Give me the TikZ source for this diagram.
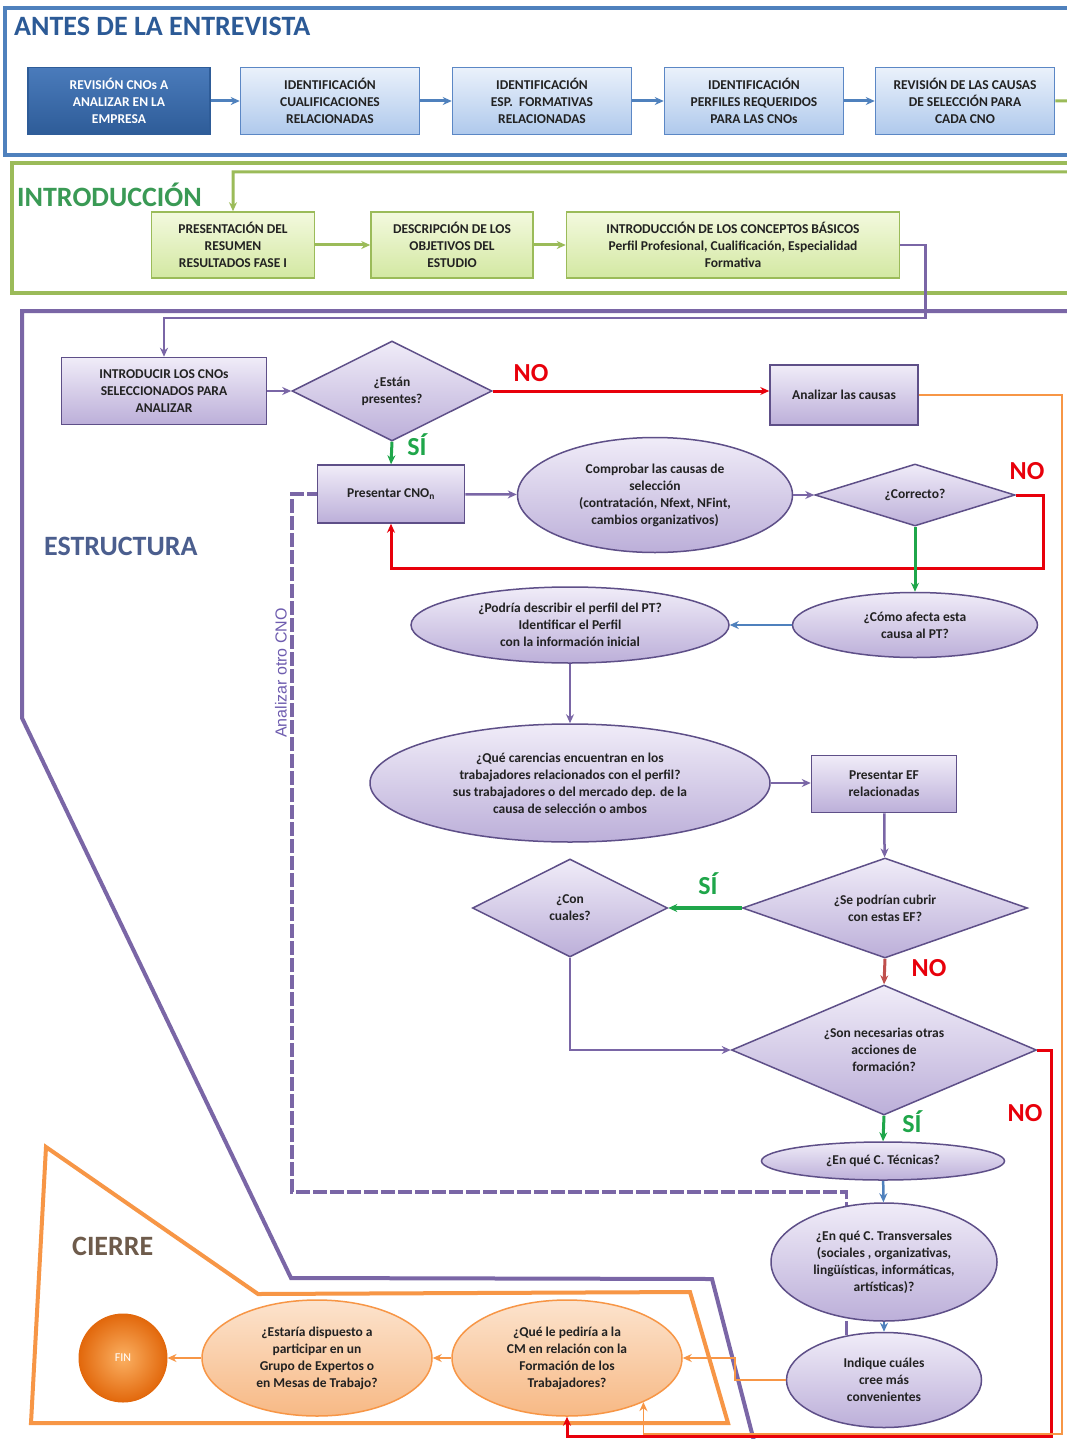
\documentclass[tikz,border=0pt]{standalone}
\usepackage{fontspec}
\setmainfont{Carlito}
\newfontfamily\arialfont{Liberation Sans}
\usetikzlibrary{shapes.geometric,arrows.meta,backgrounds}
\definecolor{txt}{HTML}{222222}
\definecolor{blueline}{HTML}{4F81BD}
\definecolor{blueedge}{HTML}{5B87C5}
\definecolor{bluetop}{HTML}{EAF1FB}
\definecolor{bluebot}{HTML}{AFC9EC}
\definecolor{darkbluetop}{HTML}{4A7BBB}
\definecolor{darkbluebot}{HTML}{2E5C98}
\definecolor{greenline}{HTML}{9BBB59}
\definecolor{greentop}{HTML}{F3F9DE}
\definecolor{greenbot}{HTML}{D3E8A2}
\definecolor{purpleline}{HTML}{7A66A6}
\definecolor{purpleedge}{HTML}{5E4F88}
\definecolor{purpletop}{HTML}{F0ECF8}
\definecolor{purplebot}{HTML}{BCAFD9}
\definecolor{orangeline}{HTML}{F79646}
\definecolor{orangetop}{HTML}{FCE3CD}
\definecolor{orangebot}{HTML}{F7B985}
\definecolor{fininner}{HTML}{FBB062}
\definecolor{finouter}{HTML}{E2680C}
\definecolor{redline}{HTML}{E8000B}
\definecolor{yesgreen}{HTML}{1FA64A}
\definecolor{brownred}{HTML}{C0504D}
\definecolor{antescol}{HTML}{2C5A96}
\definecolor{introcol}{HTML}{3A9A55}
\definecolor{estrcol}{HTML}{4B5E8E}
\definecolor{cierrecol}{HTML}{6E5B4B}

\begin{document}
\begin{tikzpicture}[x=1pt,y=1pt]
        \tikzstyle{every node}+=[inner sep=0pt, align=center, text=txt, font=\fontsize{13.5}{17}\selectfont\bfseries]
        \tikzstyle{title}=[anchor=west, font=\fontsize{28}{30}\selectfont\bfseries]
        \tikzstyle{answer}=[font=\fontsize{26}{28}\selectfont\bfseries]
        \tikzstyle{bluebox}=[draw=blueedge, line width=1.5pt, top color=bluetop, bottom color=bluebot, minimum width=179pt, minimum height=67pt]
        \tikzstyle{greenbox}=[draw=greenline, line width=1.5pt, top color=greentop, bottom color=greenbot, minimum height=66pt]
        \tikzstyle{purplebox}=[draw=purpleedge, line width=1.5pt, top color=purpletop, bottom color=purplebot]
        \tikzstyle{purpleellipse}=[purplebox, ellipse]
        \tikzstyle{purplediamond}=[purplebox, diamond]
        \tikzstyle{orangeellipse}=[ellipse, draw=orangeline, line width=1.5pt, top color=orangetop, bottom color=orangebot, minimum width=230pt, minimum height=116pt]
        \tikzstyle{tip}=[-{Stealth[length=9pt,width=8pt]}]
        \tikzstyle{bluearrow}=[tip, draw=blueline, line width=3pt]
        \tikzstyle{greenarrow}=[tip, draw=greenline, line width=3pt]
        \tikzstyle{purplearrow}=[tip, draw=purpleline, line width=2.5pt]
        \tikzstyle{redarrow}=[tip, draw=redline, line width=3pt]
        \tikzstyle{yesarrow}=[tip, draw=yesgreen, line width=3pt]
        \tikzstyle{orangearrow}=[tip, draw=orangeline, line width=1.5pt]

        \useasboundingbox (0,0) rectangle (1067,-1439);

        \draw[blueline, line width=4pt] (1080,-8) -- (5,-8) -- (5,-155) -- (1080,-155);
        \draw[greenline, line width=4pt] (1080,-163) -- (12,-163) -- (12,-293) -- (1080,-293);
        \draw[purpleline, line width=4pt] (1080,-311) -- (22,-311) -- (22,-718) -- (291,-1278) -- (712,-1279) -- (755,-1445);
        \draw[orangeline, line width=4pt] (46,-1147) -- (258,-1294) -- (690,-1292) -- (728,-1423) -- (31,-1423) -- cycle;

        \node[title, text=antescol] (tAntes) at (14,-26) {ANTES DE LA ENTREVISTA};
        \node[title, text=introcol] (tIntro) at (17,-195) {INTRODUCCIÓN};
        \node[title, text=estrcol] (tEstr) at (44,-546) {ESTRUCTURA};
        \node[title, text=cierrecol] (tCierre) at (72,-1246) {CIERRE};

        \node[bluebox, minimum width=182pt, draw=darkbluebot, top color=darkbluetop, bottom color=darkbluebot, text=white] (b1) at (119,-101) {REVISIÓN CNOs A\\ANALIZAR EN LA\\EMPRESA};
        \node[bluebox] (b2) at (330,-101) {IDENTIFICACIÓN\\CUALIFICACIONES\\RELACIONADAS};
        \node[bluebox] (b3) at (542,-101) {IDENTIFICACIÓN\\ESP.\ \ FORMATIVAS\\RELACIONADAS};
        \node[bluebox] (b4) at (754,-101) {IDENTIFICACIÓN\\PERFILES REQUERIDOS\\PARA LAS CNOs};
        \node[bluebox] (b5) at (965,-101) {REVISIÓN DE LAS CAUSAS\\DE SELECCIÓN PARA\\CADA CNO};

        \node[greenbox, minimum width=163pt] (i1) at (233,-245) {PRESENTACIÓN DEL\\RESUMEN\\RESULTADOS FASE I};
        \node[greenbox, minimum width=162pt] (i2) at (452,-245) {DESCRIPCIÓN DE LOS\\OBJETIVOS DEL\\ESTUDIO};
        \node[greenbox, minimum width=333pt] (i3) at (733,-245) {INTRODUCCIÓN DE LOS CONCEPTOS BÁSICOS\\Perfil Profesional, Cualificación, Especialidad\\Formativa};

        \node[purplebox, minimum width=205pt, minimum height=67pt] (c1) at (164,-391) {INTRODUCIR LOS CNOs\\SELECCIONADOS PARA\\ANALIZAR};
        \node[purplediamond, minimum width=200pt, minimum height=100pt, aspect=2] (d1) at (392,-391) {¿Están\\presentes?};
        \node[purplebox, minimum width=148pt, minimum height=60pt] (an) at (844,-395) {Analizar las causas};
        \node[purplebox, minimum width=147pt, minimum height=58pt] (p1) at (391,-494) {Presentar CNO\textsubscript{n}};
        \node[purpleellipse, minimum width=275pt, minimum height=115pt] (e1) at (655,-495) {Comprobar las causas de\\selección\\(contratación, Nfext, NFint,\\cambios organizativos)};
        \node[purplediamond, minimum width=200pt, minimum height=62pt, aspect=3.2] (d2) at (915,-495) {¿Correcto?};
        \node[purpleellipse, minimum width=245pt, minimum height=65pt] (e2) at (915,-625) {¿Cómo afecta esta\\causa al PT?};
        \node[purpleellipse, minimum width=318pt, minimum height=76pt] (e3) at (570,-625) {¿Podría describir el perfil del PT?\\Identificar el Perfil\\con la información inicial};
        \node[purpleellipse, minimum width=400pt, minimum height=118pt] (e4) at (570,-783) {¿Qué carencias encuentran en los\\trabajadores relacionados con el perfil?\\sus trabajadores o del mercado dep. de la\\causa de selección o ambos};
        \node[purplebox, minimum width=145pt, minimum height=57pt] (ef) at (884,-784) {Presentar EF\\relacionadas};
        \node[purplediamond, minimum width=285pt, minimum height=100pt, aspect=2.85] (d3) at (885,-908) {¿Se podrían cubrir\\con estas EF?};
        \node[purplediamond, minimum width=195pt, minimum height=98pt, aspect=2] (d4) at (570,-908) {¿Con\\cuales?};
        \node[purplediamond, minimum width=305pt, minimum height=130pt, aspect=2.35] (d5) at (884,-1050) {¿Son necesarias otras\\acciones de\\formación?};
        \node[purpleellipse, minimum width=243pt, minimum height=38pt] (e5) at (883,-1161) {¿En qué C. Técnicas?};
        \node[purpleellipse, minimum width=226pt, minimum height=118pt] (e6) at (884,-1262) {¿En qué C. Transversales\\(sociales , organizativas,\\lingüísticas, informáticas,\\artísticas)?};
        \node[purpleellipse, minimum width=195pt, minimum height=95pt] (e7) at (884,-1380) {Indique cuáles\\cree más\\convenientes};

        \node[orangeellipse] (o2) at (567,-1358) {¿Qué le pediría a la\\CM en relación con la\\Formación de los\\Trabajadores?};
        \node[orangeellipse] (o1) at (317,-1358) {¿Estaría dispuesto a\\participar en un\\Grupo de Expertos o\\en Mesas de Trabajo?};
        \node[circle, draw=finouter, line width=1pt, inner color=fininner, outer color=finouter, minimum size=88pt, text=white, font=\fontsize{12}{14}\selectfont] (fin) at (123,-1358) {FIN};

        \node[rotate=90, text=purpleline!90!blue, font=\arialfont\fontsize{16}{18}\selectfont] (otro) at (281,-673) {Analizar otro CNO};

        \node[answer, text=redline] (no1) at (531,-373) {NO};
        \node[answer, text=yesgreen] (si1) at (417,-445) {SÍ};
        \node[answer, text=redline] (no2) at (1027,-471) {NO};
        \node[answer, text=yesgreen] (si2) at (708,-884) {SÍ};
        \node[answer, text=redline] (no3) at (929,-968) {NO};
        \node[answer, text=yesgreen] (si3) at (912,-1122) {SÍ};
        \node[answer, text=redline] (no4) at (1025,-1113) {NO};

        \begin{scope}[on background layer]
        \fill[white] (0,0) rectangle (1067,-1439);
        \draw[purpleline, line width=3.5pt, dash pattern=on 14pt off 3pt] (e7.130) |- (292,-1192) |- (p1.west);
        \end{scope}

        \draw[bluearrow] (b1) -- (b2);
        \draw[bluearrow] (b2) -- (b3);
        \draw[bluearrow] (b3) -- (b4);
        \draw[bluearrow] (b4) -- (b5);
        \draw[greenarrow] (b5.east) -- ++(25,0) -- (1080,-172) -| (i1.north);
        \draw[greenarrow] (i1) -- (i2);
        \draw[greenarrow] (i2) -- (i3);
        \draw[purplearrow] (i3.east) -- ++(25,0) |- ([yshift=39pt]c1.north) -- (c1.north);

        \draw[purplearrow] (c1) -- (d1);
        \draw[redarrow] (d1.east) -- (d1.east -| an.west);
        \draw[yesarrow] (d1.south) -- (p1.north);
        \draw[purplearrow] (p1) -- (e1);
        \draw[purplearrow] (e1) -- (d2);
        \draw[redarrow] (d2.east) -- ++(28,0) |- ([yshift=-45pt]p1.south) -- (p1.south);
        \draw[yesarrow] (d2.south) -- (e2.north);
        \draw[tip, draw=blueline, line width=2.5pt] (e2) -- (e3);
        \draw[purplearrow] (e3) -- (e4);
        \draw[purplearrow] (e4.east) -- (e4.east -| ef.west);
        \draw[purplearrow] (ef) -- (d3);
        \draw[tip, draw=yesgreen, line width=4pt] (d3.west) -- (d4.east);
        \draw[tip, draw=brownred, line width=3pt] (d3.south) -- (d5.north);
        \draw[purplearrow] (d4.south) |- (d5.west);
        \draw[yesarrow] (d5.south) -- (e5.north);
        \draw[tip, draw=blueline, line width=2.5pt] (e5) -- (e6);
        \draw[tip, draw=blueline, line width=2.5pt] (e6) -- (e7);
        \draw[redarrow] (d5.east) -- (1051,-1050) |- ([yshift=-19.5pt]o2.south) -- (o2.south);
        \draw[orangearrow] (an.east) -- (1062,-395) -- (1062,-1434) -| (o2.-30);
        \draw[orangearrow] (e7.west) -- ++(-51,0) |- (o2.east);
        \draw[orangearrow] (o2) -- (o1);
        \draw[orangearrow] (o1) -- (fin);
        \end{tikzpicture}
\end{document}
